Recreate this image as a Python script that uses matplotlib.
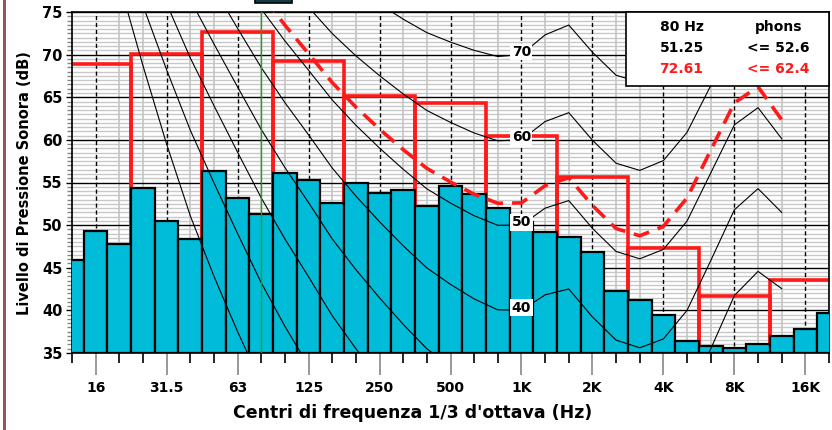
import numpy as np
import matplotlib
matplotlib.use("Agg")
import matplotlib.pyplot as plt
from matplotlib.patches import Rectangle

plt.rcParams['font.family'] = ['DejaVu Sans']
plt.rcParams['font.weight'] = 'bold'

# bande 1/3 d'ottava (12.5 Hz .. 20 kHz)
bande = ['12.5', '16', '20', '25', '31.5', '40', '50', '63', '80', '100', '125', '160',
         '200', '250', '315', '400', '500', '630', '800', '1K', '1.25K', '1.6K', '2K',
         '2.5K', '3.15K', '4K', '5K', '6.3K', '8K', '10K', '12.5K', '16K', '20K']
livelli_terzi = [45.9, 49.3, 47.8, 54.4, 50.5, 48.4, 56.4, 53.2, 51.25, 56.1, 55.3, 52.6,
                 55.0, 53.8, 54.1, 52.2, 54.6, 53.7, 52.0, 50.4, 49.2, 48.6, 46.8, 42.3,
                 41.2, 39.4, 36.4, 35.8, 35.6, 36.1, 37.0, 37.8, 39.75]

# bande d'ottava
ottave = ['16', '31.5', '63', '125', '250', '500', '1K', '2K', '4K', '8K', '16K']
livelli_ottave = [68.9, 70.1, 72.61, 69.3, 65.1, 64.3, 60.5, 55.7, 47.3, 41.7, 43.6]

# curve isofoniche (20 Hz .. 12.5 kHz)
soglia = [78.5, 68.7, 59.5, 51.1, 44.0, 37.5, 31.5, 26.5, 22.1, 17.9, 14.4, 11.4, 8.6, 6.2, 4.4,
          3.0, 2.2, 2.4, 3.5, 1.7, -1.3, -4.2, -6.0, -5.4, -1.5, 6.0, 12.6, 13.9, 12.3]
phon10 = [83.75, 75.76, 68.21, 61.14, 54.96, 49.01, 43.24, 38.13, 33.48, 28.77, 24.84, 21.33, 18.05,
          15.14, 12.98, 11.18, 9.99, 10.00, 11.26, 10.43, 7.27, 4.45, 3.04, 3.80, 7.46, 14.35,
          20.98, 23.43, 22.33]
phon20 = [89.58, 82.65, 75.98, 69.62, 64.02, 58.55, 53.19, 48.38, 43.94, 39.37, 35.51, 31.99, 28.69,
          25.67, 23.43, 21.48, 20.10, 20.01, 21.46, 21.40, 18.15, 15.38, 14.26, 15.14, 18.63, 25.02,
          31.52, 34.43, 33.04]
phon30 = [94.85, 88.52, 82.36, 76.45, 71.26, 66.20, 61.22, 56.76, 52.64, 48.38, 44.78, 41.47, 38.36,
          35.50, 33.37, 31.49, 30.11, 30.01, 31.65, 32.04, 28.76, 26.03, 25.05, 26.02, 29.42, 35.48,
          41.74, 44.57, 42.55]
phon40 = [99.85, 93.94, 88.17, 82.63, 77.78, 73.08, 68.48, 64.37, 60.59, 56.70, 53.41, 50.40, 47.58,
          44.98, 43.05, 41.34, 40.06, 40.01, 41.82, 42.51, 39.23, 36.51, 35.61, 36.65, 40.01, 45.83,
          51.80, 54.28, 51.49]
phon50 = [104.72, 99.14, 93.69, 88.49, 83.96, 79.61, 75.36, 71.61, 68.17, 64.68, 61.72, 59.04, 56.55,
          54.26, 52.59, 51.10, 49.98, 50.01, 51.99, 52.88, 49.62, 46.91, 46.05, 47.15, 50.48, 56.11,
          61.76, 63.78, 60.14]
phon60 = [109.51, 104.23, 99.08, 94.19, 89.96, 85.94, 82.05, 78.65, 75.56, 72.47, 69.86, 67.53, 65.39,
          63.45, 62.05, 60.81, 59.89, 60.01, 62.15, 63.19, 59.96, 57.26, 56.42, 57.57, 60.89, 66.36,
          71.66, 73.16, 68.63]
phon70 = [114.26, 109.25, 104.38, 99.78, 95.87, 92.18, 88.64, 85.60, 82.85, 80.17, 77.92, 75.94, 74.16,
          72.58, 71.47, 70.50, 69.78, 70.01, 72.32, 73.47, 70.28, 67.58, 66.76, 67.95, 71.26, 76.59,
          81.54, 82.46, 77.04]
phon_max = [105.97, 100.47, 95.10, 89.98, 85.54, 81.27, 77.12, 73.46, 70.11, 66.72, 63.85, 61.26, 58.86,
            56.66, 55.06, 53.63, 52.56, 52.61, 54.63, 55.56, 52.31, 49.60, 48.75, 49.86, 53.19, 58.78,
            64.34, 66.23, 62.36]
etichette_curve = {'40': phon40, '50': phon50, '60': phon60, '70': phon70}

x_terzi = np.arange(len(bande))
x_ottave = np.arange(1, len(bande), 3)
x_curve = np.arange(2, 31)

fig = plt.figure(figsize=(8.32, 4.30), dpi=100)
ax = fig.add_axes([72 / 832, 77 / 430, 757 / 832, 341 / 430])

# griglia
for y in np.arange(35, 75.01, 0.5):
    if y % 5 == 0:
        ax.axhline(y, color='black', lw=1.0, zorder=1)
    else:
        ax.axhline(y, color='#c8c8c8', lw=1.0, zorder=0.5)
for i in x_terzi:
    if i in x_ottave:
        ax.axvline(i, color='black', lw=1.0, ls=(0, (3, 2)), zorder=1)
    else:
        ax.axvline(i, color='#c4c4c4', lw=1.2, zorder=0.6)

# ottave (contorno rosso dietro)
ax.bar(x_ottave, np.array(livelli_ottave) - 35, bottom=35, width=3, fill=False,
       edgecolor='#ff1a1a', lw=2.6, zorder=2)
# terzi
ax.bar(x_terzi, np.array(livelli_terzi) - 35, bottom=35, width=1, color='#00bcd8',
       edgecolor='black', lw=1.6, zorder=3)

# curve isofoniche
for curva in [soglia, phon10, phon20, phon30, phon40, phon50, phon60, phon70]:
    ax.plot(x_curve, curva, color='black', lw=0.8, zorder=4)
ax.plot(x_curve, phon_max, color='#ff1a1a', lw=2.6, dashes=(4.5, 2.5), zorder=5)

for lab, curva in etichette_curve.items():
    ax.text(19, curva[17] + 0.3, lab, ha='center', va='center', fontsize=10, zorder=6,
            bbox=dict(facecolor='white', edgecolor='none', pad=1.0))

ax.axvline(8, color='#1aa61a', lw=1.0, zorder=5)

# riquadro valori
ax.add_patch(Rectangle((0.7318, 0.783), 0.2682, 0.217, transform=ax.transAxes,
                       facecolor='white', edgecolor='black', lw=1.2, zorder=7, clip_on=False))
tx1, tx2 = 0.8052, 0.9335
ax.text(tx1, 0.955, '80 Hz', transform=ax.transAxes, ha='center', va='center', fontsize=10, zorder=8)
ax.text(tx2, 0.955, 'phons', transform=ax.transAxes, ha='center', va='center', fontsize=10, zorder=8)
ax.text(tx1, 0.894, '51.25', transform=ax.transAxes, ha='center', va='center', fontsize=10, zorder=8)
ax.text(tx2, 0.894, '<= 52.6', transform=ax.transAxes, ha='center', va='center', fontsize=10, zorder=8)
ax.text(tx1, 0.832, '72.61', transform=ax.transAxes, ha='center', va='center', fontsize=10,
        color='#ff1a1a', zorder=8)
ax.text(tx2, 0.832, '<= 62.4', transform=ax.transAxes, ha='center', va='center', fontsize=10,
        color='#ff1a1a', zorder=8)

ax.set_xlim(0, 32)
ax.set_ylim(35, 75)
ax.set_yticks(np.arange(35, 76, 5))
ax.set_yticks(np.arange(35, 75.01, 0.5), minor=True)
ax.set_xticks(x_ottave)
ax.set_xticklabels(ottave)
ax.set_xticks([i for i in x_terzi if i not in x_ottave], minor=True)
ax.tick_params(axis='y', which='major', length=4, width=1, pad=3, labelsize=10.5)
ax.tick_params(axis='y', which='minor', length=3.6, width=1, color='#888888')
ax.tick_params(axis='x', which='major', length=16, width=1.2, color='#888888', pad=4, labelsize=10)
ax.tick_params(axis='x', which='minor', length=7.5, width=1.2, color='black')
for s in ax.spines.values():
    s.set_linewidth(1.2)

fig.text(25 / 832, 1 - 183 / 430, 'Livello di Pressione Sonora (dB)', rotation=90,
         ha='center', va='center', fontsize=10.5)
fig.text(413 / 832, 1 - 413 / 430, "Centri di frequenza 1/3 d'ottava (Hz)",
         ha='center', va='center', fontsize=12.5)

# bordo sinistro e marcatore in alto
fig.add_artist(Rectangle((3 / 832, 0), 3 / 832, 1, transform=fig.transFigure,
                         facecolor='#8c5a5a', edgecolor='none'))
fig.add_artist(Rectangle((255 / 832, 1 - 3 / 430), 37 / 832, 5 / 430, transform=fig.transFigure,
                         facecolor='#123c48', edgecolor='black', lw=1.2))

fig.savefig('out.png', dpi=100)
